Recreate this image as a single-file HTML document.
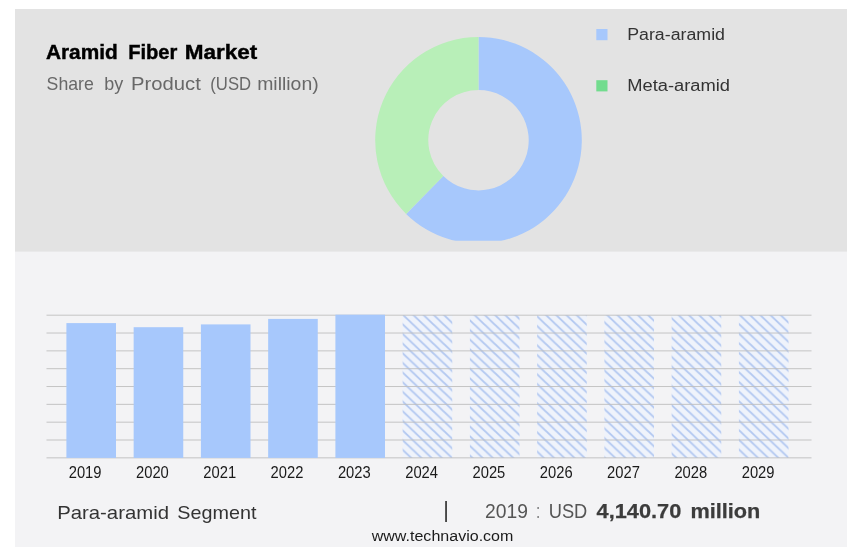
<!DOCTYPE html>
<html><head><meta charset="utf-8"><title>Aramid Fiber Market</title>
<style>
html,body{margin:0;padding:0;background:#fff;}
body{width:865px;height:553px;overflow:hidden;font-family:"Liberation Sans",sans-serif;}
svg{display:block;font-family:"Liberation Sans",sans-serif;}
</style></head><body>
<svg width="865" height="553" viewBox="0 0 865 553">
<defs>
<pattern id="h" patternUnits="userSpaceOnUse" x="403.3" y="315.2" width="10.2" height="9.66">
<rect width="10.2" height="9.66" fill="#eff3fb"/>
<path d="M-1,-0.947 L11.2,10.607 M-11.2,-0.947 L1,10.607 M9.2,-0.947 L21.4,10.607" stroke="#b4c9f1" stroke-width="1.9" fill="none"/>
</pattern>
<filter id="b" x="0" y="0" width="865" height="553" filterUnits="userSpaceOnUse" color-interpolation-filters="sRGB"><feGaussianBlur stdDeviation="0.5"/></filter>
<clipPath id="dc"><rect x="360" y="20" width="240" height="220.7"/></clipPath>
</defs>
<g filter="url(#b)">
<rect width="865" height="553" fill="#ffffff"/>
<rect x="15" y="9" width="832" height="538" fill="#f3f3f5"/>
<rect x="15" y="9" width="832" height="242.6" fill="#e3e3e3"/>
<g clip-path="url(#dc)">
<path d="M478.50,36.90 A103.3,103.3 0 1 1 406.10,213.88 L443.31,176.01 A50.2,50.2 0 1 0 478.50,90.00 Z" fill="#a7c8fc"/>
<path d="M406.10,213.88 A103.3,103.3 0 0 1 478.50,36.90 L478.50,90.00 A50.2,50.2 0 0 0 443.31,176.01 Z" fill="#b8efb8"/>
</g>
<text x="45.9" y="58.6" font-size="19.6" font-weight="bold" fill="#000" stroke="#000" stroke-width="0.4" textLength="71.8" lengthAdjust="spacingAndGlyphs">Aramid</text>
<text x="128.2" y="58.6" font-size="19.6" font-weight="bold" fill="#000" stroke="#000" stroke-width="0.4" textLength="49.2" lengthAdjust="spacingAndGlyphs">Fiber</text>
<text x="184.7" y="58.6" font-size="19.6" font-weight="bold" fill="#000" stroke="#000" stroke-width="0.4" textLength="72.6" lengthAdjust="spacingAndGlyphs">Market</text>
<text x="46.6" y="89.8" font-size="18.2" fill="#686868" textLength="47.2" lengthAdjust="spacingAndGlyphs">Share</text>
<text x="104.2" y="89.8" font-size="18.2" fill="#686868" textLength="19" lengthAdjust="spacingAndGlyphs">by</text>
<text x="131" y="89.8" font-size="18.2" fill="#686868" textLength="69.8" lengthAdjust="spacingAndGlyphs">Product</text>
<text x="210.3" y="89.8" font-size="18.2" fill="#686868" textLength="40.8" lengthAdjust="spacingAndGlyphs">(USD</text>
<text x="257.2" y="89.8" font-size="18.2" fill="#686868" textLength="61.5" lengthAdjust="spacingAndGlyphs">million)</text>
<rect x="596.3" y="29" width="11.2" height="11.2" fill="#a7c8fc"/>
<rect x="596.3" y="80.2" width="11.2" height="11.2" fill="#72dc8e"/>
<text x="627.2" y="39.5" font-size="15.6" fill="#333" textLength="97.8" lengthAdjust="spacingAndGlyphs">Para-aramid</text>
<text x="627.2" y="90.5" font-size="15.6" fill="#333" textLength="102.8" lengthAdjust="spacingAndGlyphs">Meta-aramid</text>
<rect x="402.65" y="315.2" width="49.6" height="142.70" fill="url(#h)"/>
<rect x="469.90" y="315.2" width="49.6" height="142.70" fill="url(#h)"/>
<rect x="537.15" y="315.2" width="49.6" height="142.70" fill="url(#h)"/>
<rect x="604.40" y="315.2" width="49.6" height="142.70" fill="url(#h)"/>
<rect x="671.65" y="315.2" width="49.6" height="142.70" fill="url(#h)"/>
<rect x="738.90" y="315.2" width="49.6" height="142.70" fill="url(#h)"/>
<line x1="46.5" x2="811.5" y1="315.20" y2="315.20" stroke="#bebebe" stroke-width="0.9"/>
<line x1="46.5" x2="811.5" y1="333.03" y2="333.03" stroke="#bebebe" stroke-width="0.9"/>
<line x1="46.5" x2="811.5" y1="350.86" y2="350.86" stroke="#bebebe" stroke-width="0.9"/>
<line x1="46.5" x2="811.5" y1="368.69" y2="368.69" stroke="#bebebe" stroke-width="0.9"/>
<line x1="46.5" x2="811.5" y1="386.52" y2="386.52" stroke="#bebebe" stroke-width="0.9"/>
<line x1="46.5" x2="811.5" y1="404.35" y2="404.35" stroke="#bebebe" stroke-width="0.9"/>
<line x1="46.5" x2="811.5" y1="422.18" y2="422.18" stroke="#bebebe" stroke-width="0.9"/>
<line x1="46.5" x2="811.5" y1="440.01" y2="440.01" stroke="#bebebe" stroke-width="0.9"/>
<line x1="46.5" x2="811.5" y1="457.84" y2="457.84" stroke="#bebebe" stroke-width="0.9"/>
<rect x="66.40" y="323.1" width="49.6" height="134.80" fill="#a7c8fc"/>
<rect x="133.65" y="327.2" width="49.6" height="130.70" fill="#a7c8fc"/>
<rect x="200.90" y="324.4" width="49.6" height="133.50" fill="#a7c8fc"/>
<rect x="268.15" y="318.9" width="49.6" height="139.00" fill="#a7c8fc"/>
<rect x="335.40" y="314.7" width="49.6" height="143.20" fill="#a7c8fc"/>
<text x="68.7" y="477.7" font-size="15.6" fill="#1a1a1a" textLength="32.8" lengthAdjust="spacingAndGlyphs">2019</text>
<text x="136.0" y="477.7" font-size="15.6" fill="#1a1a1a" textLength="32.8" lengthAdjust="spacingAndGlyphs">2020</text>
<text x="203.3" y="477.7" font-size="15.6" fill="#1a1a1a" textLength="32.8" lengthAdjust="spacingAndGlyphs">2021</text>
<text x="270.6" y="477.7" font-size="15.6" fill="#1a1a1a" textLength="32.8" lengthAdjust="spacingAndGlyphs">2022</text>
<text x="337.9" y="477.7" font-size="15.6" fill="#1a1a1a" textLength="32.8" lengthAdjust="spacingAndGlyphs">2023</text>
<text x="405.2" y="477.7" font-size="15.6" fill="#1a1a1a" textLength="32.8" lengthAdjust="spacingAndGlyphs">2024</text>
<text x="472.5" y="477.7" font-size="15.6" fill="#1a1a1a" textLength="32.8" lengthAdjust="spacingAndGlyphs">2025</text>
<text x="539.8" y="477.7" font-size="15.6" fill="#1a1a1a" textLength="32.8" lengthAdjust="spacingAndGlyphs">2026</text>
<text x="607.1" y="477.7" font-size="15.6" fill="#1a1a1a" textLength="32.8" lengthAdjust="spacingAndGlyphs">2027</text>
<text x="674.4" y="477.7" font-size="15.6" fill="#1a1a1a" textLength="32.8" lengthAdjust="spacingAndGlyphs">2028</text>
<text x="741.7" y="477.7" font-size="15.6" fill="#1a1a1a" textLength="32.8" lengthAdjust="spacingAndGlyphs">2029</text>
<text x="57.2" y="518.5" font-size="18.6" fill="#333" textLength="111.8" lengthAdjust="spacingAndGlyphs">Para-aramid</text>
<text x="177.3" y="518.5" font-size="18.6" fill="#333" textLength="79.1" lengthAdjust="spacingAndGlyphs">Segment</text>
<rect x="445.2" y="501" width="1.7" height="21" fill="#333"/>
<text x="485.0" y="518.4" font-size="20.6" fill="#555" textLength="42.9" lengthAdjust="spacingAndGlyphs">2019</text>
<text x="536.4" y="518.4" font-size="20.6" fill="#555" textLength="3.2" lengthAdjust="spacingAndGlyphs">:</text>
<text x="548.7" y="518.4" font-size="20.6" fill="#555" textLength="38.6" lengthAdjust="spacingAndGlyphs">USD</text>
<text x="596.6" y="518.4" font-size="20.4" font-weight="bold" fill="#3c3c3c" stroke="#3c3c3c" stroke-width="0.25" textLength="84.7" lengthAdjust="spacingAndGlyphs">4,140.70</text>
<text x="690.4" y="518.4" font-size="20.4" font-weight="bold" fill="#3c3c3c" stroke="#3c3c3c" stroke-width="0.25" textLength="69.9" lengthAdjust="spacingAndGlyphs">million</text>
<text x="371.7" y="540.8" font-size="14" fill="#1a1a1a" textLength="141.7" lengthAdjust="spacingAndGlyphs">www.technavio.com</text>
</g>
</svg>
</body></html>
